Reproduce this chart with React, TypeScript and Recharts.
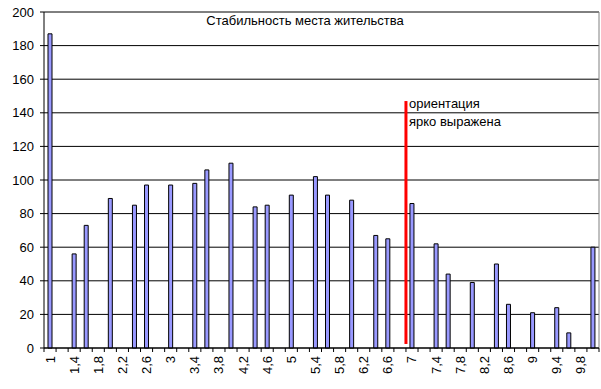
import React from "react";
import {
  BarChart,
  Bar,
  XAxis,
  YAxis,
  CartesianGrid,
  ReferenceLine,
} from "recharts";

const categories = [
  "1", "1,2", "1,4", "1,6", "1,8", "2", "2,2", "2,4", "2,6", "2,8",
  "3", "3,2", "3,4", "3,6", "3,8", "4", "4,2", "4,4", "4,6", "4,8",
  "5", "5,2", "5,4", "5,6", "5,8", "6", "6,2", "6,4", "6,6", "6,8",
  "7", "7,2", "7,4", "7,6", "7,8", "8", "8,2", "8,4", "8,6", "8,8",
  "9", "9,2", "9,4", "9,6", "9,8", "10",
];

const counts = [
  187, 0, 56, 73, 0, 89, 0, 85, 97, 0,
  97, 0, 98, 106, 0, 110, 0, 84, 85, 0,
  91, 0, 102, 91, 0, 88, 0, 67, 65, 0,
  86, 0, 62, 44, 0, 39, 0, 50, 26, 0,
  21, 0, 24, 9, 0, 60,
];

const yTicks = [0, 20, 40, 60, 80, 100, 120, 140, 160, 180, 200];

const title = "Стабильность места жительства";
const noteLines = ["ориентация", "ярко выражена"];
// marker drawn at the start of category "7", from 2.4 up to 147
const markerCategory = "7";
const markerFrom = 2.4;
const markerTo = 147;

const data = categories.map((c, i) => ({ x: c, v: counts[i] }));

const FONT = "'Liberation Sans', Arial, sans-serif";

const XTick = (props: any) => {
  const { x, y, payload, index } = props;
  const half = payload && payload.offset ? payload.offset : 6.03;
  const i = typeof index === "number" ? index : payload.index;
  const isLast = i === categories.length - 1;
  const ly = y + 8;
  return (
    <g>
      <line x1={x - half} y1={y} x2={x - half} y2={y + 4} stroke="#000" />
      {isLast && <line x1={x + half} y1={y} x2={x + half} y2={y + 4} stroke="#000" />}
      {i % 2 === 0 && (
        <text
          x={x}
          y={ly}
          transform={`rotate(-90 ${x} ${ly})`}
          textAnchor="end"
          dominantBaseline="central"
          fontSize={13}
          fontFamily={FONT}
          fill="#000"
        >
          {payload.value}
        </text>
      )}
    </g>
  );
};

const NoteLabel = (props: any) => {
  const vb = props.viewBox || {};
  const x = (vb.x || 0) + 3;
  const y = vb.y || 0;
  return (
    <text x={x} y={y + 7} fontSize={13} fontFamily={FONT} fill="#000">
      <tspan x={x} y={y + 7}>{noteLines[0]}</tspan>
      <tspan x={x} y={y + 24.5}>{noteLines[1]}</tspan>
    </text>
  );
};

export default function App() {
  return (
    <div style={{ position: "absolute", left: 0, top: 0, width: 601, height: 389, background: "#fff" }}>
      <BarChart
        width={601}
        height={389}
        data={data}
        margin={{ top: 12, right: 2, bottom: 0, left: 0 }}
        barCategoryGap={0}
      >
        <CartesianGrid vertical={false} stroke="#000" strokeWidth={1} />
        <XAxis
          dataKey="x"
          type="category"
          interval={0}
          height={41}
          tickLine={false}
          tickSize={0}
          tickMargin={0}
          axisLine={{ stroke: "#000" }}
          tick={<XTick />}
        />
        <YAxis
          domain={[0, 200]}
          ticks={yTicks}
          width={44}
          tickSize={4}
          tickMargin={6}
          interval={0}
          axisLine={{ stroke: "#000" }}
          tickLine={{ stroke: "#000" }}
          tick={{ fill: "#000", fontSize: 13, fontFamily: FONT }}
        />
        <ReferenceLine y={200} stroke="#808080" />
        <ReferenceLine x={categories[categories.length - 1]} position="end" stroke="#808080" />
        <Bar
          dataKey="v"
          fill="#9999ff"
          stroke="#000"
          strokeWidth={1}
          barSize={4}
          isAnimationActive={false}
        />
        <ReferenceLine
          segment={[
            { x: markerCategory, y: markerFrom },
            { x: markerCategory, y: markerTo },
          ]}
          position="start"
          stroke="#ff0000"
          strokeWidth={3}
          label={<NoteLabel />}
        />
        <text x={305} y={25} textAnchor="middle" fontSize={13} fontFamily={FONT} fill="#000">
          {title}
        </text>
      </BarChart>
    </div>
  );
}
